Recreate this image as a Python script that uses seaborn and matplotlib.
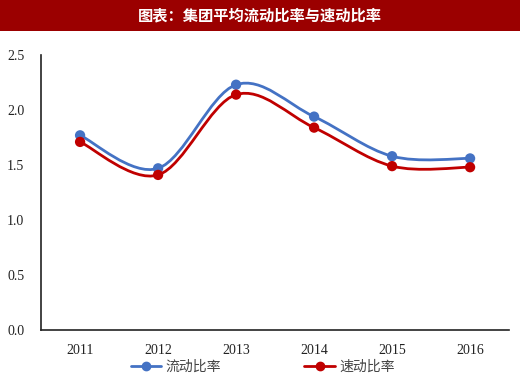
import numpy as np
import pandas as pd
import seaborn as sns
import matplotlib.pyplot as plt
from matplotlib.path import Path
from matplotlib.patches import PathPatch, Rectangle
from matplotlib.lines import Line2D

# 数据
years = ['2011', '2012', '2013', '2014', '2015', '2016']
current_ratio = [1.77, 1.47, 2.23, 1.94, 1.58, 1.56]
quick_ratio = [1.71, 1.41, 2.14, 1.84, 1.49, 1.48]
series_names = ['流动比率', '速动比率']
colors = ['#4472C4', '#C00000']

df = pd.DataFrame({
    'year': years * 2,
    'x': list(range(len(years))) * 2,
    'value': current_ratio + quick_ratio,
    'series': [series_names[0]] * len(years) + [series_names[1]] * len(years),
})

sns.set_theme(style='white')
plt.rcParams['font.family'] = ['Noto Sans CJK SC', 'DejaVu Sans']

fig = plt.figure(figsize=(5.2, 3.82), dpi=100)
ax = fig.add_axes([0.079, 0.136, 0.9, 0.72])

# 标题栏
fig.patches.append(Rectangle((0, 0.92), 1, 0.08, transform=fig.transFigure,
                             facecolor='#9B0000', edgecolor='none', zorder=0))
fig.text(0.5, 0.96, '图表：集团平均流动比率与速动比率', color='white',
         fontsize=11, fontweight='bold', ha='center', va='center')


# 平滑曲线 (类似 Excel 平滑线)
def smooth_path(xs, ys):
    pts = np.column_stack([xs, ys]).astype(float)
    verts = [pts[0]]
    codes = [Path.MOVETO]
    n = len(pts)
    for i in range(n - 1):
        p0 = pts[i - 1] if i > 0 else pts[i]
        p1 = pts[i]
        p2 = pts[i + 1]
        p3 = pts[i + 2] if i + 2 < n else pts[i + 1]
        c1 = p1 + (p2 - p0) / 6
        c2 = p2 - (p3 - p1) / 6
        verts += [c1, c2, p2]
        codes += [Path.CURVE4] * 3
    return Path(verts, codes)


for name, col in zip(series_names, colors):
    sub = df[df['series'] == name]
    ax.add_patch(PathPatch(smooth_path(sub['x'], sub['value']), facecolor='none',
                           edgecolor=col, lw=2, zorder=2))

sns.scatterplot(data=df, x='x', y='value', hue='series', palette=colors,
                s=55, edgecolor='none', legend=False, zorder=3, ax=ax)

ax.set_xlim(-0.5, 5.5)
ax.set_ylim(0, 2.5)
ax.set_xticks(range(len(years)))
ax.set_xticklabels(years)
ax.set_yticks(np.arange(0, 2.51, 0.5))
ax.set_yticklabels([f'{v:.1f}' for v in np.arange(0, 2.51, 0.5)])
for lab in ax.get_xticklabels() + ax.get_yticklabels():
    lab.set_fontfamily('Liberation Serif')
    lab.set_fontsize(10)
    lab.set_color('#222222')
ax.tick_params(axis='x', pad=10, length=0)
ax.tick_params(axis='y', pad=12, length=0)
ax.set_xlabel('')
ax.set_ylabel('')
sns.despine(ax=ax)
for s in ['left', 'bottom']:
    ax.spines[s].set_color('#222222')
    ax.spines[s].set_linewidth(1.2)

handles = [Line2D([0], [0], color=c, lw=2, marker='o', markersize=6) for c in colors]
leg = fig.legend(handles, series_names, loc='center', bbox_to_anchor=(0.505, 0.04),
                 ncol=2, frameon=False, fontsize=10, columnspacing=6.0,
                 handlelength=2.2, handletextpad=0.3)
for t in leg.get_texts():
    t.set_color('#444444')

fig.savefig('out.png', dpi=100)
